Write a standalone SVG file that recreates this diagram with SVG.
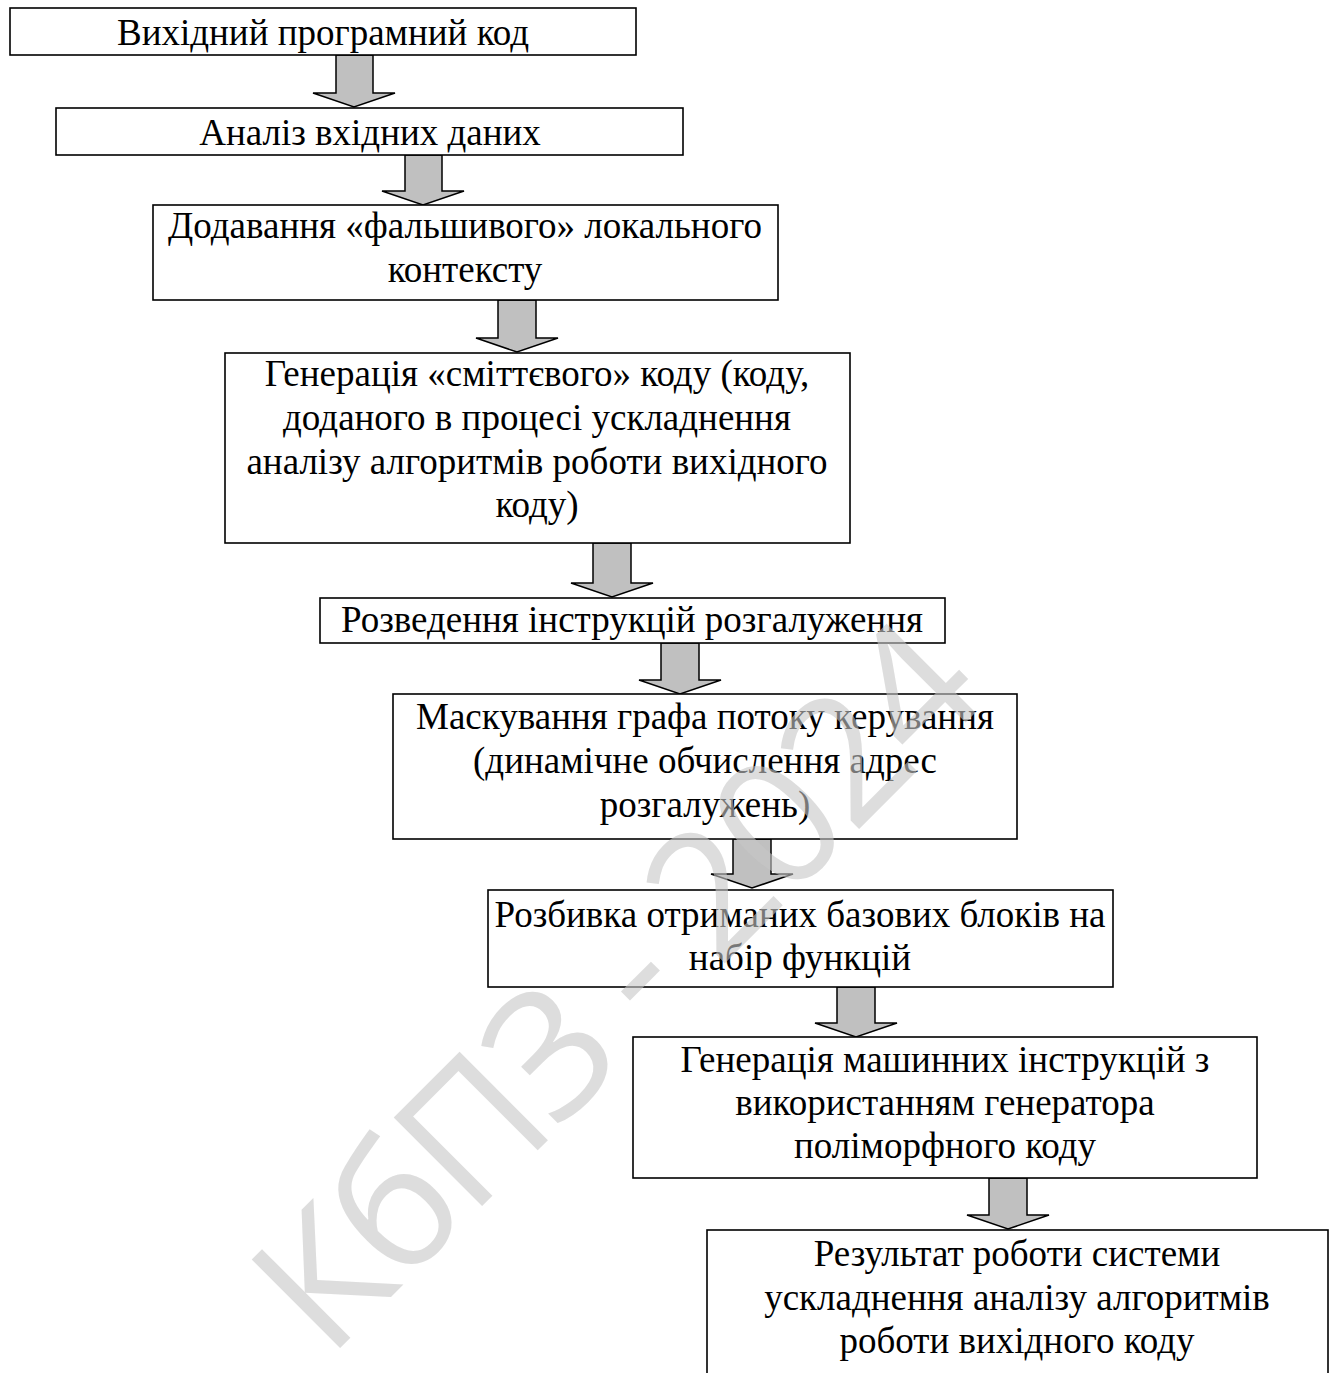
<svg xmlns="http://www.w3.org/2000/svg" width="1336" height="1373" viewBox="0 0 1336 1373">
<defs>
<style>
.box{fill:#fff;stroke:#000;stroke-width:1.6}
.t{font-family:"Liberation Serif","Times New Roman",serif;font-size:37px;fill:#000;text-anchor:middle}
.arr{fill:#c0c0c0;stroke:#000;stroke-width:1.5;stroke-linejoin:miter}
.wm{font-family:"Open Sans","Liberation Sans",sans-serif;font-size:175px;letter-spacing:-5px;fill:#c6c6c6;fill-opacity:0.6}
</style>
</defs>
<rect width="1336" height="1373" fill="#fff"/>
<g id="connectors">
<path class="arr" d="M336,55 H373 V93 H395 L354,107 L313,93 H336 Z"/>
<path class="arr" d="M405,155 H442 V191 H464 L423,205 L382,191 H405 Z"/>
<path class="arr" d="M498,300 H536 V338 H558 L517,352 L476,338 H498 Z"/>
<path class="arr" d="M593,543 H631 V583 H653 L612,597 L571,583 H593 Z"/>
<path class="arr" d="M661,643 H699 V680 H721 L680,694 L639,680 H661 Z"/>
<path class="arr" d="M733,839 H771 V874 H793 L752,888 L711,874 H733 Z"/>
<path class="arr" d="M837,987 H875 V1023 H897 L856,1037 L815,1023 H837 Z"/>
<path class="arr" d="M989,1178 H1027 V1215 H1049 L1008,1229 L967,1215 H989 Z"/>
</g>
<g id="n1"><rect class="box" x="10" y="8" width="626" height="47"/><text class="t" x="323" y="45">Вихідний програмний код</text></g>
<g id="n2"><rect class="box" x="56" y="108" width="627" height="47"/><text class="t" x="370" y="145">Аналіз вхідних даних</text></g>
<g id="n3"><rect class="box" x="153" y="205" width="625" height="95"/><text class="t" x="465" y="238">Додавання «фальшивого» локального</text><text class="t" x="465" y="282">контексту</text></g>
<g id="n4"><rect class="box" x="225" y="353" width="625" height="190"/><text class="t" x="537" y="386">Генерація «сміттєвого» коду (коду,</text><text class="t" x="537" y="430">доданого в процесі ускладнення</text><text class="t" x="537" y="474">аналізу алгоритмів роботи вихідного</text><text class="t" x="537" y="517">коду)</text></g>
<g id="n5"><rect class="box" x="320" y="598" width="625" height="45"/><text class="t" x="632" y="632">Розведення інструкцій розгалуження</text></g>
<g id="n6"><rect class="box" x="393" y="694" width="624" height="145"/><text class="t" x="705" y="729">Маскування графа потоку керування</text><text class="t" x="705" y="773">(динамічне обчислення адрес</text><text class="t" x="705" y="817">розгалужень)</text></g>
<g id="n7"><rect class="box" x="488" y="890" width="625" height="97"/><text class="t" x="800" y="927">Розбивка отриманих базових блоків на</text><text class="t" x="800" y="970">набір функцій</text></g>
<g id="n8"><rect class="box" x="633" y="1037" width="624" height="141"/><text class="t" x="945" y="1072">Генерація машинних інструкцій з</text><text class="t" x="945" y="1115">використанням генератора</text><text class="t" x="945" y="1158">поліморфного коду</text></g>
<g id="n9"><rect class="box" x="707" y="1230" width="621" height="160"/><text class="t" x="1017" y="1266">Результат роботи системи</text><text class="t" x="1017" y="1310">ускладнення аналізу алгоритмів</text><text class="t" x="1017" y="1353">роботи вихідного коду</text></g>
<text class="wm" x="328" y="1360" transform="rotate(-45 328 1360)">КбПЗ - 2024</text>
</svg>
